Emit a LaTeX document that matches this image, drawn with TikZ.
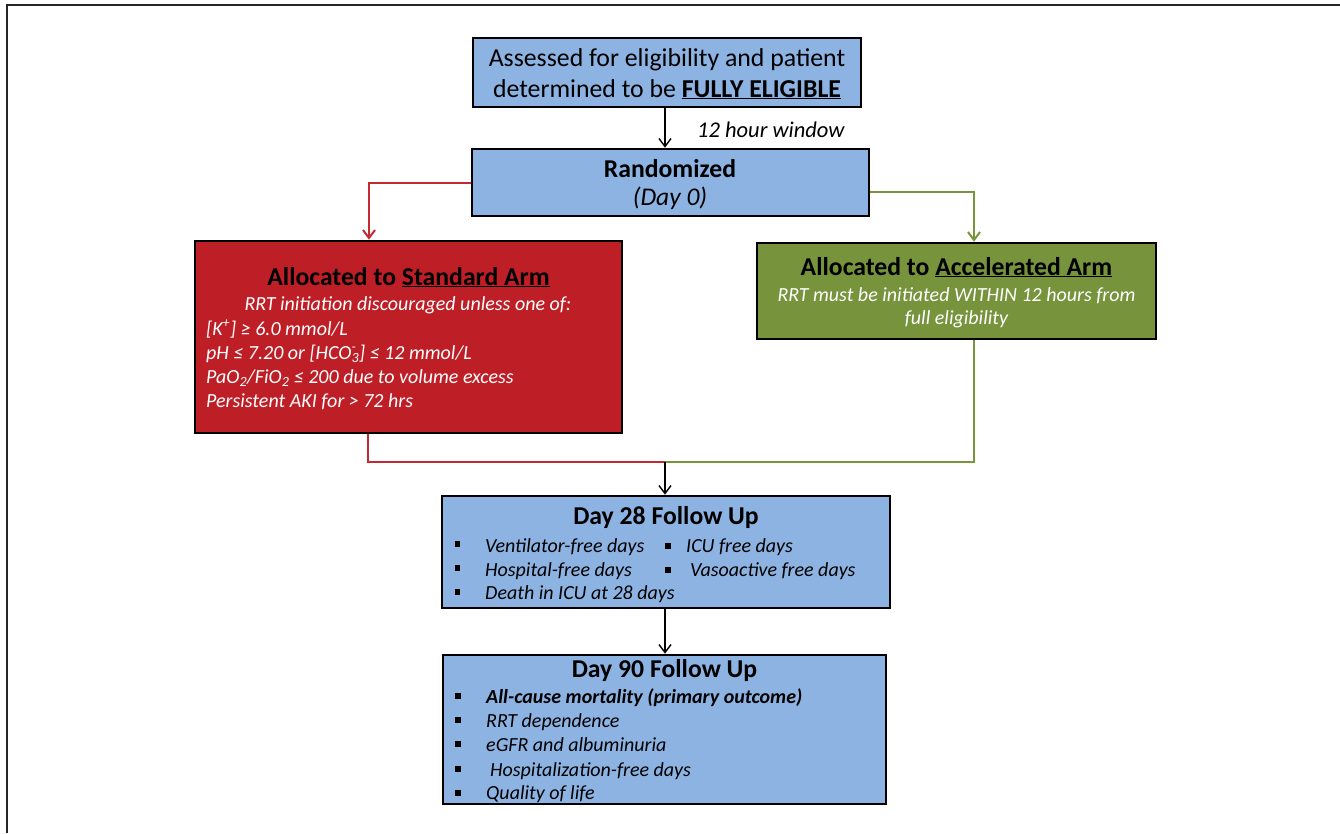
\documentclass[tikz,border=0pt]{standalone}
\usepackage{fontspec}
\setmainfont{Carlito}
\usetikzlibrary{arrows.meta}
\definecolor{boxblue}{RGB}{141,179,226}
\definecolor{boxred}{RGB}{190,30,38}
\definecolor{boxgreen}{RGB}{119,147,60}
\definecolor{linered}{RGB}{196,40,48}
\definecolor{linegreen}{RGB}{119,150,60}
\newcommand\fsz[1]{\fontsize{#1}{#1}\selectfont}
\begin{document}
\begin{tikzpicture}[x=1pt,y=-1pt,
  box/.style={draw=black,line width=2.6pt,inner sep=0pt},
  txt/.style={inner sep=0pt,anchor=base},
  ltxt/.style={inner sep=0pt,anchor=base west},
  titlef/.style={font=\fsz{25.7}\bfseries},
  bodyf/.style={font=\fsz{20}\itshape},
  wbody/.style={bodyf,text=white},
  bul/.style={fill=black,inner sep=0pt,minimum size=5.5pt},
  tip/.style={-{Straight Barb[length=8pt,width=12pt]}},
  conn/.style={draw=black,line width=1.4pt,tip},
  redl/.style={draw=linered,line width=2pt},
  greenl/.style={draw=linegreen,line width=2pt},
  frame/.style={draw=black!85,line width=1.4pt}]
\useasboundingbox (0,0) rectangle (1340,833);
\draw[frame] (7,833) -- (7,5) -- (1340,5);

% boxes
\node[box,fill=boxblue,minimum width=388pt,minimum height=69pt] (elig) at (667,72.5) {};
\node[box,fill=boxblue,minimum width=397pt,minimum height=67pt] (rand) at (670.5,182.5) {};
\node[box,fill=boxred,minimum width=427pt,minimum height=192pt] (std) at (408.5,337) {};
\node[box,fill=boxgreen,minimum width=399pt,minimum height=96pt] (acc) at (956.5,291) {};
\node[box,fill=boxblue,minimum width=448pt,minimum height=112pt] (d28) at (666,552) {};
\node[box,fill=boxblue,minimum width=443pt,minimum height=149pt] (d90) at (664.5,729.5) {};

% eligibility text
\node[txt,font=\fsz{25.8}] (e1) at (667,66) {Assessed for eligibility and patient};
\node[txt,font=\fsz{25.8}] (e2) at (667,97) {determined to be \textbf{\underline{FULLY ELIGIBLE}}};
\node[ltxt,font=\fsz{22.5}\itshape] (win) at (697,137) {12 hour window};

% randomized
\node[txt,titlef] (r1) at (670,177) {Randomized};
\node[txt,font=\fsz{25.5}\itshape] (r2) at (670,205) {(Day 0)};

% standard arm
\node[txt,titlef] (s0) at (408.5,285) {Allocated to \underline{Standard Arm}};
\node[txt,wbody] (s1) at (408,310.5) {RRT initiation discouraged unless one of:};
\node[ltxt,wbody] (s2) at (206,335) {[K\textsuperscript{+}] ≥ 6.0 mmol/L};
\node[ltxt,wbody] (s3) at (206,359) {pH ≤ 7.20 or [HCO\rlap{\textsuperscript{-}}\textsubscript{3}] ≤ 12 mmol/L};
\node[ltxt,wbody] (s4) at (206,383) {PaO\textsubscript{2}/FiO\textsubscript{2} ≤ 200 due to volume excess};
\node[ltxt,wbody] (s5) at (206,407) {Persistent AKI for > 72 hrs};

% accelerated arm
\node[txt,titlef] (a0) at (956.5,275) {Allocated to \underline{Accelerated Arm}};
\node[txt,wbody] (a1) at (956.5,301.5) {RRT must be initiated WITHIN 12 hours from};
\node[txt,wbody] (a2) at (956.5,324) {full eligibility};

% day 28
\node[txt,titlef] (t28) at (666,524) {Day 28 Follow Up};
\node[bul] (b281) at (457.5,544) {};
\node[bul] (b282) at (457.5,568) {};
\node[bul] (b283) at (457.5,592) {};
\node[bul] (b284) at (668,546) {};
\node[bul] (b285) at (668,570) {};
\node[ltxt,bodyf] (i281) at (485,552) {Ventilator-free days};
\node[ltxt,bodyf] (i282) at (485,576) {Hospital-free days};
\node[ltxt,bodyf] (i283) at (485,599.5) {Death in ICU at 28 days};
\node[ltxt,bodyf] (i284) at (686,552) {ICU free days};
\node[ltxt,bodyf] (i285) at (690,576) {Vasoactive free days};

% day 90
\node[txt,titlef] (t90) at (664.5,677) {Day 90 Follow Up};
\node[bul] (b901) at (458,696) {};
\node[bul] (b902) at (458,720) {};
\node[bul] (b903) at (458,744) {};
\node[bul] (b904) at (458,769) {};
\node[bul] (b905) at (458,793) {};
\node[ltxt,font=\fsz{20}\bfseries\itshape] (i901) at (486,703) {All-cause mortality (primary outcome)};
\node[ltxt,bodyf] (i902) at (486,727.5) {RRT dependence};
\node[ltxt,bodyf] (i903) at (486,751.5) {eGFR and albuminuria};
\node[ltxt,bodyf] (i904) at (490,776) {Hospitalization-free days};
\node[ltxt,bodyf] (i905) at (486,799.5) {Quality of life};

% connectors
\coordinate (merge) at (665,462);
\draw[conn] ([xshift=-2pt]elig.south) -- ([xshift=-2pt]elig.south |- rand.north);
\draw[redl,tip] (rand.west) -| ([xshift=-39.5pt]std.north);
\draw[greenl,tip] ([yshift=-9.5pt]rand.east) -| ([xshift=17.5pt]acc.north);
\draw[redl] ([xshift=-40.5pt]std.south) |- (merge);
\draw[greenl] ([xshift=17.5pt]acc.south) |- (merge);
\draw[conn] (merge) -- (merge |- d28.north);
\draw[conn] ([xshift=-1pt]d28.south) -- ([xshift=-1pt]d28.south |- d90.north);
\end{tikzpicture}
\end{document}
